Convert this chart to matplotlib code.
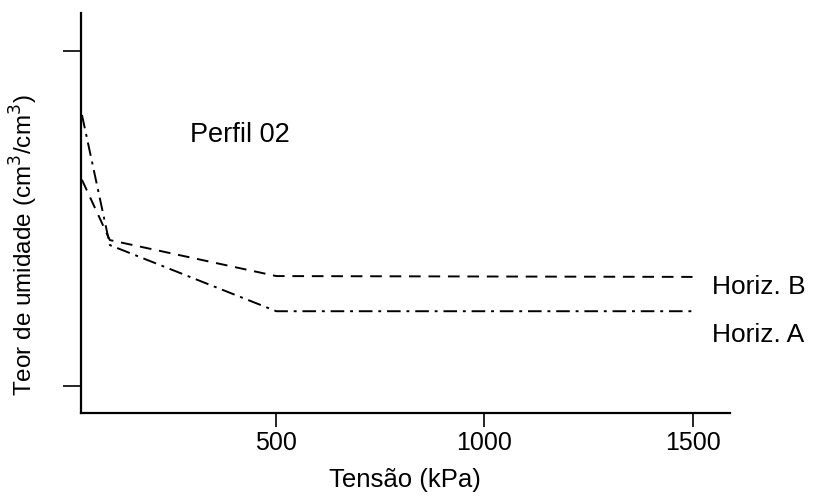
import matplotlib
matplotlib.use("Agg")
import matplotlib.pyplot as plt

plt.rcParams['font.family'] = ['Liberation Sans', 'DejaVu Sans']

# Data (tension in kPa, moisture content in arbitrary units; y tick labels unlabelled in source)
tension = [33, 100, 500, 1500]
horiz_a = [0.4235, 0.268, 0.189, 0.189]
horiz_b = [0.346, 0.274, 0.231, 0.230]
xticks = [500, 1000, 1500]
xtick_labels = ['500', '1000', '1500']
yticks = [0.1, 0.5]

fig = plt.figure(figsize=(8.17, 4.98), dpi=100)
ax = fig.add_axes([0.0988, 0.1707, 0.7947, 0.8033])

ax.plot(tension, horiz_b, color='black', lw=1.4, linestyle=(0, (6, 4)))
ax.plot(tension, horiz_a, color='black', lw=1.4, linestyle=(0, (7, 3, 1.5, 3)))

ax.set_xlim(30, 1590)
ax.set_ylim(0.0674, 0.5454)

for s in ['top', 'right']:
    ax.spines[s].set_visible(False)
for s in ['left', 'bottom']:
    ax.spines[s].set_linewidth(1.6)

ax.set_xticks(xticks)
ax.set_xticklabels(xtick_labels)
ax.set_yticks(yticks)
ax.set_yticklabels([])
ax.tick_params(axis='x', direction='out', length=10, width=1.2, labelsize=18, pad=3)
ax.tick_params(axis='y', direction='out', length=13, width=1.2)

ax.set_xlabel('Tensão (kPa)', fontsize=18.5, labelpad=9)
ax.set_ylabel('Teor de umidade (cm$^3$/cm$^3$)', fontsize=17.5)
ax.yaxis.set_label_coords(-0.062, 0.42)

ax.text(0.2326, 0.729, 'Perfil 02', transform=fig.transFigure, fontsize=19.5,
        ha='left', va='center')
ax.text(0.8715, 0.4237, 'Horiz. B', transform=fig.transFigure, fontsize=19,
        ha='left', va='center')
ax.text(0.8715, 0.3273, 'Horiz. A', transform=fig.transFigure, fontsize=19,
        ha='left', va='center')

fig.savefig('out.png', dpi=100)
